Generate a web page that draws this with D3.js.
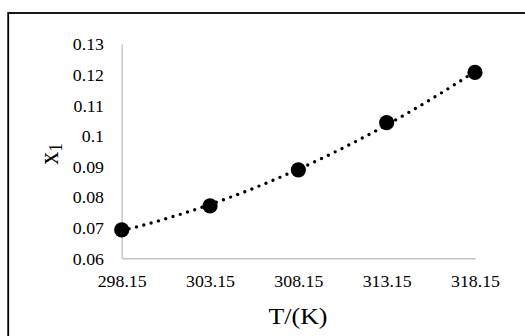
<!DOCTYPE html>
<html>
<head>
<meta charset="utf-8">
<script src="https://cdn.jsdelivr.net/npm/d3@7"></script>
<style>
  html, body { margin: 0; padding: 0; background: #fff; }
  svg { display: block; }
  text { font-family: "Liberation Serif", "Times New Roman", serif; fill: #000; }
</style>
</head>
<body>
<svg id="chart" width="525" height="336"></svg>
<script>
// Mole fraction solubility x1 against temperature
const temperatures = [298.15, 303.15, 308.15, 313.15, 318.15];
const moleFractions = [0.0693, 0.0771, 0.0889, 0.1043, 0.1207];
const xTicks = [298.15, 303.15, 308.15, 313.15, 318.15];
const yTicks = [0.06, 0.07, 0.08, 0.09, 0.10, 0.11, 0.12, 0.13];

const svg = d3.select("#chart");
const stretch = 1.08;            // text is drawn slightly wide
const plot = { left: 121.7, right: 475, top: 44, bottom: 258.3 };

// outer frame
svg.append("rect")
  .attr("x", 8.2).attr("y", 13)
  .attr("width", 560).attr("height", 360)
  .attr("fill", "none").attr("stroke", "#000").attr("stroke-width", 1.8);

const x = d3.scaleLinear().domain([298.15, 318.15]).range([plot.left, plot.right]);
const y = d3.scaleLinear().domain([0.06, 0.13]).range([plot.bottom, plot.top]);

// axes
const fmtY = v => d3.format(".2~f")(v);
const yAxis = svg.append("g")
  .attr("transform", `translate(${plot.left},0)`)
  .call(d3.axisLeft(y).tickValues(yTicks).tickSize(0).tickFormat(fmtY));
yAxis.select(".domain").attr("stroke", "#c4c4c4").attr("stroke-width", 1.4);
yAxis.selectAll(".tick text")
  .attr("x", -17.7 / stretch).attr("dy", "0.35em")
  .attr("transform", `scale(${stretch},1)`)
  .style("font-size", "16.5px").style("font-family", "Liberation Serif");

const xAxis = svg.append("g")
  .attr("transform", `translate(0,${plot.bottom})`)
  .call(d3.axisBottom(x).tickValues(xTicks).tickSize(0).tickFormat(d3.format(".2f")));
xAxis.select(".domain").attr("stroke", "#c4c4c4").attr("stroke-width", 1.4);
xAxis.selectAll(".tick text")
  .attr("y", 29).attr("dy", 0)
  .attr("transform", `scale(${stretch},1)`)
  .style("font-size", "16.5px").style("font-family", "Liberation Serif");

// second-order polynomial trendline (least squares)
function polyFit2(xs, ys) {
  const m = d3.mean(xs);
  const u = xs.map(v => v - m);
  let S = [0,0,0,0,0], T = [0,0,0];
  u.forEach((ui, i) => {
    for (let k = 0; k < 5; k++) S[k] += Math.pow(ui, k);
    for (let k = 0; k < 3; k++) T[k] += Math.pow(ui, k) * ys[i];
  });
  const A = [[S[0],S[1],S[2]],[S[1],S[2],S[3]],[S[2],S[3],S[4]]];
  const b = T.slice();
  for (let i = 0; i < 3; i++) {
    for (let j = i + 1; j < 3; j++) {
      const f = A[j][i] / A[i][i];
      for (let k = i; k < 3; k++) A[j][k] -= f * A[i][k];
      b[j] -= f * b[i];
    }
  }
  const c = [0,0,0];
  for (let i = 2; i >= 0; i--) {
    let s = b[i];
    for (let k = i + 1; k < 3; k++) s -= A[i][k] * c[k];
    c[i] = s / A[i][i];
  }
  return t => c[0] + c[1] * (t - m) + c[2] * (t - m) * (t - m);
}
const fit = polyFit2(temperatures, moleFractions);
const tMin = d3.min(temperatures), tMax = d3.max(temperatures);
const curve = d3.range(0, 101).map(i => tMin + (tMax - tMin) * i / 100);

svg.append("path")
  .datum(curve)
  .attr("fill", "none")
  .attr("stroke", "#000")
  .attr("stroke-width", 3.4)
  .attr("stroke-linecap", "round")
  .attr("stroke-dasharray", "0 7.6")
  .attr("d", d3.line().x(t => x(t)).y(t => y(fit(t))));

// data markers
svg.append("g").selectAll("circle")
  .data(temperatures.map((t, i) => [t, moleFractions[i]]))
  .join("circle")
  .attr("cx", d => x(d[0]))
  .attr("cy", d => y(d[1]))
  .attr("r", 7.6)
  .attr("fill", "#000");

// axis titles
svg.append("text")
  .attr("transform", `translate(298,324) scale(${stretch},1)`)
  .attr("text-anchor", "middle")
  .style("font-size", "24px")
  .text("T/(K)");

const yt = svg.append("text")
  .attr("transform", `translate(58,154) rotate(-90) scale(1,${stretch})`)
  .attr("text-anchor", "middle")
  .style("font-size", "26px");
yt.append("tspan").text("x");
yt.append("tspan").attr("dy", 4).style("font-size", "17px").text("1");
</script>
</body>
</html>
